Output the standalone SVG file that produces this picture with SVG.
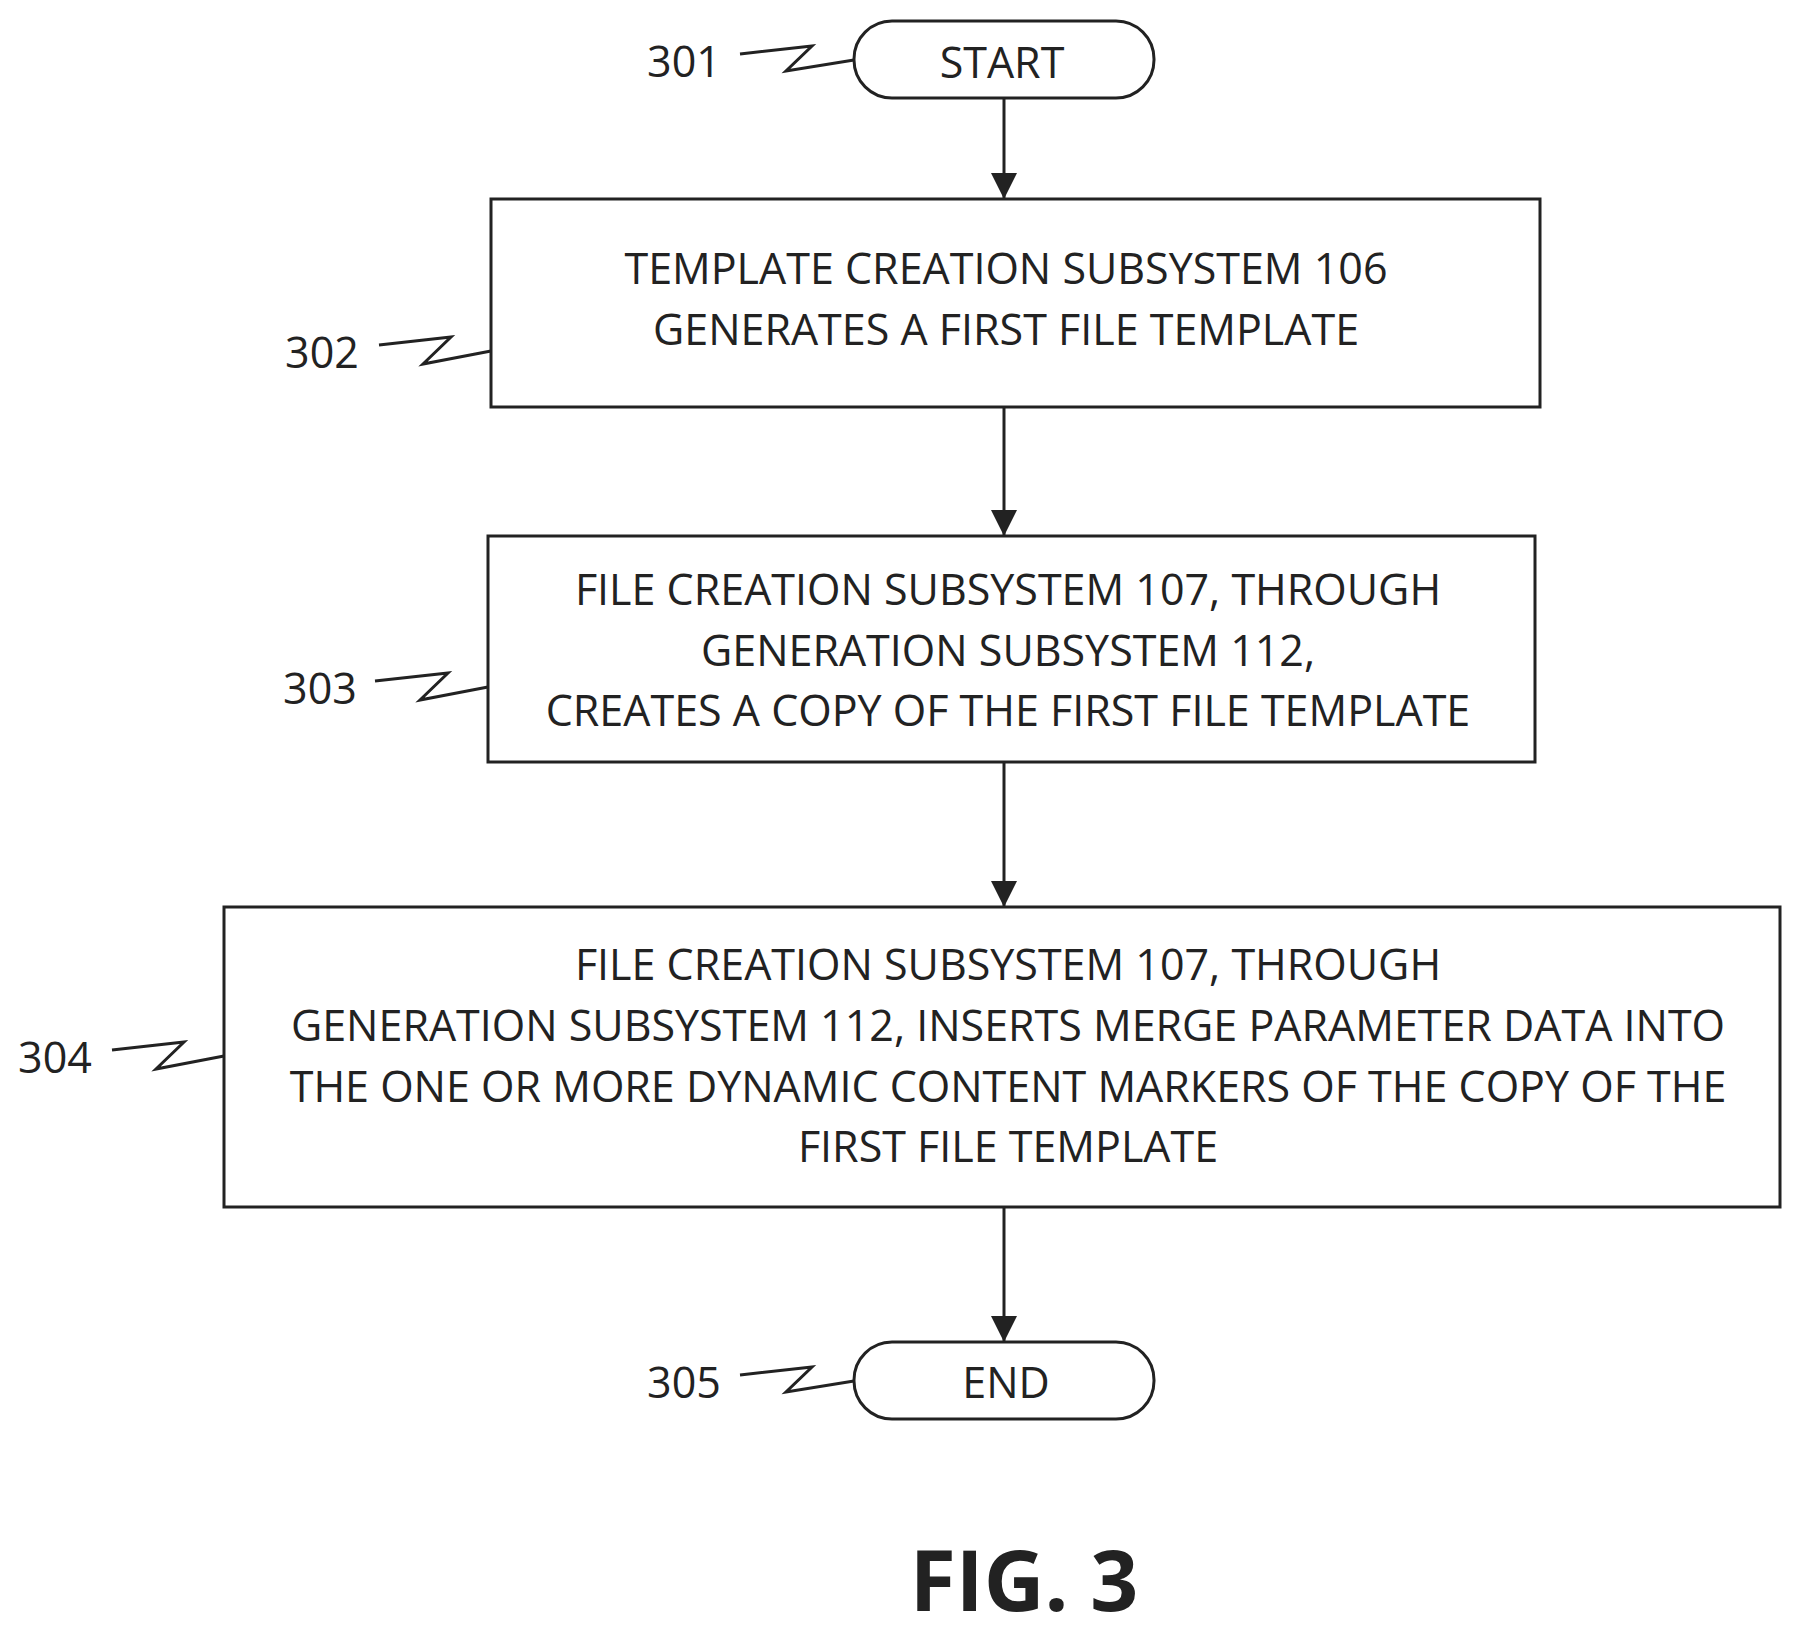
<svg xmlns="http://www.w3.org/2000/svg" width="1795" height="1635" viewBox="0 0 1795 1635">
<style>
.b{fill:#fff;stroke:#222;stroke-width:3}
.t{font-family:"Open Sans","DejaVu Sans",sans-serif;font-size:43px;fill:#222;text-anchor:middle;dominant-baseline:central}
.c{stroke:#222;stroke-width:3;fill:none}
</style>
<defs><marker id="a" markerWidth="26" markerHeight="26" refX="26" refY="13" orient="auto" markerUnits="userSpaceOnUse" viewBox="0 0 26 26"><path d="M0,0L26,13L0,26z" fill="#222"/></marker></defs>
<rect width="1795" height="1635" fill="#fff"/>
<g id="connectors">
<line class="c" x1="1004" y1="98" x2="1004" y2="199" marker-end="url(#a)"/>
<line class="c" x1="1004" y1="407" x2="1004" y2="536" marker-end="url(#a)"/>
<line class="c" x1="1004" y1="762" x2="1004" y2="907" marker-end="url(#a)"/>
<line class="c" x1="1004" y1="1207" x2="1004" y2="1342" marker-end="url(#a)"/>
<polyline class="c" points="740,54 812,46 786,71 854,60"/>
<polyline class="c" points="379,345 451,337 423,364 491,351"/>
<polyline class="c" points="375,681 448,673 420,700 488,687"/>
<polyline class="c" points="112,1050 184,1042 156,1069 224,1056"/>
<polyline class="c" points="740,1375 812,1367 786,1392 854,1381"/>
</g>
<g id="n301"><rect class="b" x="854" y="21" width="300" height="77" rx="38"/><text class="t" x="1002" y="61">START</text><text class="t" x="684" y="60">301</text></g>
<g id="n302"><rect class="b" x="491" y="199" width="1049" height="208"/><text class="t" x="1006" y="267">TEMPLATE CREATION SUBSYSTEM 106</text><text class="t" x="1006" y="328">GENERATES A FIRST FILE TEMPLATE</text><text class="t" x="322" y="351">302</text></g>
<g id="n303"><rect class="b" x="488" y="536" width="1047" height="226"/><text class="t" x="1008" y="588">FILE CREATION SUBSYSTEM 107, THROUGH</text><text class="t" x="1008" y="649">GENERATION SUBSYSTEM 112,</text><text class="t" x="1008" y="709">CREATES A COPY OF THE FIRST FILE TEMPLATE</text><text class="t" x="320" y="687">303</text></g>
<g id="n304"><rect class="b" x="224" y="907" width="1556" height="300"/><text class="t" x="1008" y="963">FILE CREATION SUBSYSTEM 107, THROUGH</text><text class="t" x="1008" y="1024">GENERATION SUBSYSTEM 112, INSERTS MERGE PARAMETER DATA INTO</text><text class="t" x="1008" y="1085">THE ONE OR MORE DYNAMIC CONTENT MARKERS OF THE COPY OF THE</text><text class="t" x="1008" y="1145">FIRST FILE TEMPLATE</text><text class="t" x="55" y="1056">304</text></g>
<g id="n305"><rect class="b" x="854" y="1342" width="300" height="77" rx="38"/><text class="t" x="1006" y="1381">END</text><text class="t" x="684" y="1381">305</text></g>
<text class="t" x="1024" y="1578" style="font-size:84px;font-weight:bold">FIG. 3</text>
</svg>
